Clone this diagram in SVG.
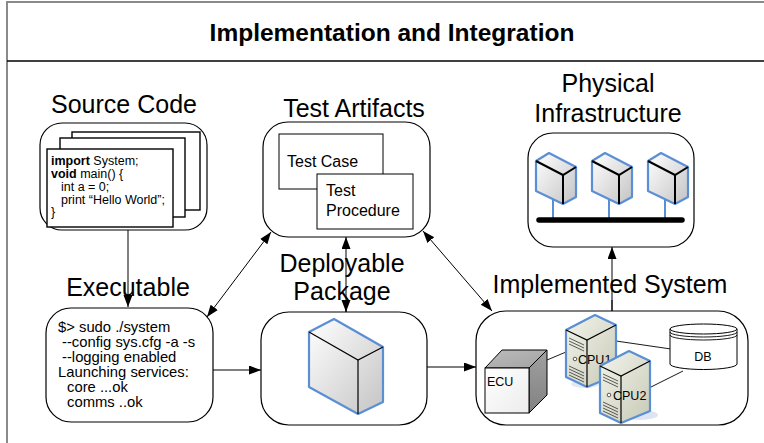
<svg xmlns="http://www.w3.org/2000/svg" width="764" height="443" viewBox="0 0 764 443">
  <style>
    .frame { fill: none; stroke: #8a8a8a; stroke-width: 2; }
    .sep { stroke: #000; stroke-width: 1.3; }
    .box { fill: #fff; stroke: #000; stroke-width: 1.2; }
    .page { fill: #fff; stroke: #000; stroke-width: 1.4; }
    .rect { fill: #fff; stroke: #000; stroke-width: 1; }
    .title { font-family: "Liberation Sans", Arial, sans-serif; font-size: 25px; fill: #000; text-anchor: middle; }
    .head { font-family: "Liberation Sans", Arial, sans-serif; font-size: 24.5px; font-weight: bold; fill: #000; text-anchor: middle; }
    .code { font-family: "Liberation Sans", Arial, sans-serif; font-size: 12.5px; fill: #000; }
    .term { font-family: "Liberation Sans", Arial, sans-serif; font-size: 14.8px; fill: #000; }
    .lbl { font-family: "Liberation Sans", Arial, sans-serif; font-size: 16px; fill: #000; }
    .small { font-family: "Liberation Sans", Arial, sans-serif; font-size: 12.5px; fill: #000; }
    .conn { fill: none; stroke: #000; stroke-width: 1; }
    .cube { stroke: #5b8fd4; stroke-width: 2.2; stroke-linejoin: round; }
    .edge { fill: none; stroke: #000; stroke-width: 1.2; }
    .edgeB { fill: none; stroke: #000; stroke-width: 2; }
    .stem { stroke: #5b8fd4; stroke-width: 2; }
    .link { stroke: #000; stroke-width: 0.9; }
  </style>
  <defs>
    <marker id="arr" markerUnits="userSpaceOnUse" markerWidth="13" markerHeight="10" refX="12" refY="4.5" orient="auto-start-reverse">
      <path d="M0,0 L12,4.5 L0,9 z" fill="#000"/>
    </marker>
    <linearGradient id="gCube" x1="0" y1="0" x2="1" y2="1">
      <stop offset="0" stop-color="#ffffff"/>
      <stop offset="1" stop-color="#c4c4c4"/>
    </linearGradient>
    <linearGradient id="gCpu" x1="0" y1="0" x2="1" y2="1">
      <stop offset="0" stop-color="#f4f5ec"/>
      <stop offset="1" stop-color="#c7c9b6"/>
    </linearGradient>
    <linearGradient id="gEcuTop" x1="0" y1="0" x2="1" y2="1">
      <stop offset="0" stop-color="#bcbcbc"/>
      <stop offset="1" stop-color="#a2a2a2"/>
    </linearGradient>
    <linearGradient id="gEcuSide" x1="0" y1="0" x2="0" y2="1">
      <stop offset="0" stop-color="#a0a0a0"/>
      <stop offset="1" stop-color="#828282"/>
    </linearGradient>
    <linearGradient id="gEcuFront" x1="0" y1="0" x2="1" y2="1">
      <stop offset="0" stop-color="#ffffff"/>
      <stop offset="1" stop-color="#ececec"/>
    </linearGradient>
    <!-- small server box: origin at its upper-left corner -->
    <g id="srv">
      <polygon class="cube" fill="url(#gCube)" points="0,0 13,-8 40,6 40,36 27,43 0,30"/>
      <polyline class="edgeB" points="0,0 27,14 40,6"/>
      <line class="edgeB" x1="27" y1="14" x2="27" y2="43"/>
    </g>
    <!-- tower computer: origin at the upper-left corner of its front face -->
    <g id="tower">
      <polygon class="cube" fill="url(#gCpu)" points="0,0 29,-15 50,-5 50,45 21,57 0,47"/>
      <polyline class="edge" points="0,0 21,10 50,-5"/>
      <line class="edge" x1="21" y1="10" x2="21" y2="57"/>
      <g stroke="#333" stroke-width="0.8">
        <line x1="3" y1="8" x2="18" y2="15"/>
        <line x1="3" y1="11" x2="18" y2="18"/>
        <line x1="3" y1="14" x2="18" y2="21"/>
        <line x1="3" y1="36" x2="18" y2="43"/>
        <line x1="3" y1="39" x2="18" y2="46"/>
        <line x1="3" y1="42" x2="18" y2="49"/>
        <line x1="3" y1="45" x2="18" y2="52"/>
      </g>
      <circle cx="9" cy="29" r="1.8" fill="#fff" stroke="#333" stroke-width="0.8"/>
    </g>
  </defs>

  <!-- outer frame and heading -->
  <path class="frame" d="M7,443 V2 H764"/>
  <line class="sep" x1="7" y1="61" x2="764" y2="61"/>
  <text class="head" x="392" y="41">Implementation and Integration</text>

  <!-- connectors -->
  <g id="connectors">
    <line class="conn" x1="128" y1="230" x2="128" y2="307" marker-end="url(#arr)"/>
    <line class="conn" x1="213" y1="370" x2="261" y2="370" marker-end="url(#arr)"/>
    <line class="conn" x1="427" y1="367" x2="476" y2="367" marker-end="url(#arr)"/>
    <line class="conn" x1="612" y1="311" x2="612" y2="247" marker-end="url(#arr)"/>
    <line class="conn" x1="271" y1="232" x2="207" y2="317" marker-start="url(#arr)" marker-end="url(#arr)"/>
    <line class="conn" x1="346" y1="237" x2="346" y2="312" marker-start="url(#arr)" marker-end="url(#arr)"/>
    <line class="conn" x1="423" y1="231" x2="492" y2="311" marker-start="url(#arr)" marker-end="url(#arr)"/>
  </g>

  <!-- Source Code -->
  <g id="source-code">
    <text class="title" x="124" y="113">Source Code</text>
    <rect class="box" x="40" y="123" width="167" height="107" rx="22"/>
    <rect class="page" x="72" y="132" width="128" height="78"/>
    <rect class="page" x="60" y="138" width="125" height="79"/>
    <rect class="page" x="47" y="149" width="126" height="78"/>
    <text class="code" x="51" y="165"><tspan font-weight="bold">import</tspan> System;</text>
    <text class="code" x="51" y="178"><tspan font-weight="bold">void</tspan> main() {</text>
    <text class="code" x="61" y="190.5">int a = 0;</text>
    <text class="code" x="61" y="203.5">print “Hello World”;</text>
    <text class="code" x="51" y="216">}</text>
  </g>

  <!-- Test Artifacts -->
  <g id="test-artifacts">
    <text class="title" x="354" y="117">Test Artifacts</text>
    <rect class="box" x="263" y="122" width="167" height="115" rx="25"/>
    <rect class="rect" x="279" y="134" width="104" height="55"/>
    <text class="lbl" x="287" y="167">Test Case</text>
    <rect class="rect" x="317" y="174" width="96" height="55"/>
    <text class="lbl" x="326" y="196">Test</text>
    <text class="lbl" x="326" y="216">Procedure</text>
  </g>

  <!-- Physical Infrastructure -->
  <g id="physical-infrastructure">
    <text class="title" x="608" y="92">Physical</text>
    <text class="title" x="608" y="122">Infrastructure</text>
    <rect class="box" x="528" y="133" width="166" height="114" rx="25"/>
    <line class="stem" x1="553" y1="199" x2="553" y2="220"/>
    <line class="stem" x1="609" y1="199" x2="609" y2="220"/>
    <line class="stem" x1="665" y1="199" x2="665" y2="220"/>
    <use href="#srv" x="536" y="161"/>
    <use href="#srv" x="592" y="161"/>
    <use href="#srv" x="648" y="161"/>
    <line x1="539" y1="220" x2="682" y2="220" stroke="#000" stroke-width="5.5" stroke-linecap="round"/>
  </g>

  <!-- Executable -->
  <g id="executable">
    <text class="title" x="128" y="296">Executable</text>
    <rect class="box" x="46" y="308" width="167" height="114" rx="25"/>
    <text class="term" x="58" y="332">$&gt; sudo ./system</text>
    <text class="term" x="62" y="347">--config sys.cfg -a -s</text>
    <text class="term" x="62" y="362">--logging enabled</text>
    <text class="term" x="58" y="377">Launching services:</text>
    <text class="term" x="67" y="392">core ...ok</text>
    <text class="term" x="67" y="407">comms ..ok</text>
  </g>

  <!-- Deployable Package -->
  <g id="deployable-package">
    <text class="title" x="342" y="272">Deployable</text>
    <text class="title" x="342" y="300">Package</text>
    <rect class="box" x="261" y="312" width="166" height="113" rx="28"/>
    <line class="conn" x1="346" y1="300" x2="346" y2="312"/>
    <polygon class="cube" fill="url(#gCube)" points="309,332 334,319 383,347 383,402 358,414 309,387"/>
    <polyline class="edge" points="309,332 358,360 383,347"/>
    <line class="edge" x1="358" y1="360" x2="358" y2="414"/>
  </g>

  <!-- Implemented System -->
  <g id="implemented-system">
    <text class="title" x="610" y="293">Implemented System</text>
    <rect class="box" x="476" y="311" width="272" height="114" rx="30"/>
    <line class="conn" x1="612" y1="300" x2="612" y2="311"/>
    <!-- links between the parts -->
    <line class="link" x1="547" y1="360" x2="566" y2="352"/>
    <line class="link" x1="616" y1="341" x2="671" y2="349"/>
    <line class="link" x1="651" y1="387" x2="683" y2="371"/>
    <line class="link" x1="593" y1="369" x2="601" y2="376"/>
    <!-- ECU -->
    <polygon fill="url(#gEcuTop)" stroke="#000" stroke-width="1" points="485,368 502,350 547,350 529,368"/>
    <polygon fill="url(#gEcuSide)" stroke="#000" stroke-width="1" points="529,368 547,350 547,395 529,413"/>
    <rect x="485" y="368" width="44" height="45" fill="url(#gEcuFront)" stroke="#000" stroke-width="1"/>
    <text class="small" x="487" y="386">ECU</text>
    <!-- DB -->
    <path d="M670,329 V364 A33.5,5.5 0 0 0 737,364 V329" fill="#fff" stroke="#000" stroke-width="1"/>
    <ellipse cx="703.5" cy="329" rx="33.5" ry="5" fill="#fff" stroke="#000" stroke-width="1"/>
    <path d="M670,332 A33.5,5 0 0 0 737,332 M670,335 A33.5,5 0 0 0 737,335" fill="none" stroke="#000" stroke-width="0.9"/>
    <text class="small" x="703" y="361" text-anchor="middle">DB</text>
    <!-- CPUs -->
    <ellipse cx="585" cy="384" rx="14" ry="4" fill="#d6def0" opacity="0.7"/>
    <use href="#tower" x="566" y="330"/>
    <text class="small" x="578" y="364">CPU1</text>
    <ellipse cx="640" cy="415" rx="18" ry="5" fill="#cfd9ee" opacity="0.7"/>
    <use href="#tower" x="600" y="366"/>
    <text class="small" x="613" y="400">CPU2</text>
  </g>
</svg>
